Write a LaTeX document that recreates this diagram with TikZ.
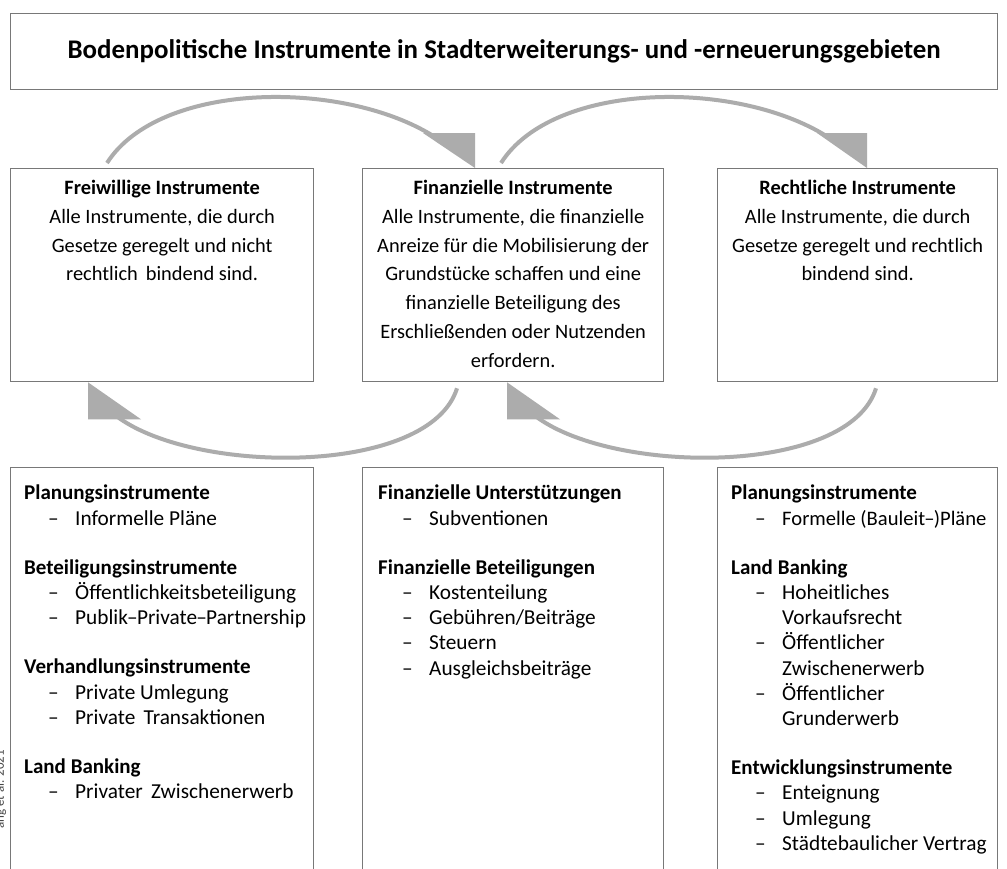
\documentclass[tikz,border=0pt]{standalone}
\usepackage{fontspec}
\setmainfont{Carlito}
\usetikzlibrary{calc}
\definecolor{boxgray}{RGB}{120,120,120}
\definecolor{arrgray}{RGB}{172,172,172}
\definecolor{srcgray}{RGB}{70,70,70}
\newcommand{\itm}[1]{\hspace*{24pt}\makebox[27pt][l]{–}#1}
\newcommand{\cnt}[1]{\hspace*{51pt}#1}
\newcommand{\hd}[1]{{\bfseries\fontsize{21}{25.2}\selectfont #1}}
\newcommand{\dsh}{\kern-0.8pt–\kern-0.8pt}
\begin{document}
\begin{tikzpicture}[x=1pt,y=-1pt,
  box/.style={draw=boxgray, line width=1.3pt, inner sep=0pt, anchor=north west},
  arr/.style={draw=arrgray, line width=4pt},
  tiphead/.style={fill=arrgray},
  midtext/.style={align=center, font=\fontsize{20.4}{28.8}\selectfont, inner sep=0pt, anchor=north},
  listtext/.style={align=left, font=\fontsize{21.3}{25.2}\selectfont, inner sep=0pt, anchor=north west},
]
\useasboundingbox (0,0) rectangle (1007,868);
\fill[white] (0,0) rectangle (1007,868);

% title
\node[box, minimum width=987, minimum height=76] (title) at (10,13) {};
\node[font=\bfseries\fontsize{26.9}{30}\selectfont, inner sep=0pt] (titletxt) at (title.center)
  {Bodenpolitische Instrumente in Stadterweiterungs- und -erneuerungsgebieten};

% middle row
\node[box, minimum width=303, minimum height=213] (fw) at (10,168) {};
\node[box, minimum width=301, minimum height=213] (fi) at (362,168) {};
\node[box, minimum width=280, minimum height=213] (re) at (717,168) {};

\node[midtext] (fwt) at ($(fw.north)+(0,12)$)
  {\textbf{Freiwillige Instrumente}\\Alle Instrumente, die durch\\Gesetze geregelt und nicht\\rechtlich\, bindend sind.};
\node[midtext] (fit) at ($(fi.north)+(0,12)$)
  {\textbf{Finanzielle Instrumente}\\Alle Instrumente, die finanzielle\\Anreize für die Mobilisierung der\\Grundstücke schaffen und eine\\finanzielle Beteiligung des\\Erschließenden oder Nutzenden\\erfordern.};
\node[midtext] (ret) at ($(re.north)+(0,12)$)
  {\textbf{Rechtliche Instrumente}\\Alle Instrumente, die durch\\Gesetze geregelt und rechtlich\\bindend sind.};

% bottom row
\node[box, minimum width=303, minimum height=420] (bl) at (10,467) {};
\node[box, minimum width=301, minimum height=420] (bm) at (362,467) {};
\node[box, minimum width=280, minimum height=420] (br) at (717,467) {};

\node[listtext] (blt) at ($(bl.north west)+(14,18)$)
  {\hd{Planungsinstrumente}\\
   \itm{Informelle Pläne}\\[24pt]
   \hd{Beteiligungsinstrumente}\\
   \itm{Öffentlichkeitsbeteiligung}\\
   \itm{Publik\dsh Private\dsh Partnership}\\[24pt]
   \hd{Verhandlungsinstrumente}\\
   \itm{Private Umlegung}\\
   \itm{Private\, Transaktionen}\\[24pt]
   \hd{Land Banking}\\
   \itm{Privater\, Zwischenerwerb}};
\node[listtext] (bmt) at ($(bm.north west)+(16,18)$)
  {\hd{Finanzielle Unterstützungen}\\
   \itm{Subventionen}\\[24pt]
   \hd{Finanzielle Beteiligungen}\\
   \itm{Kostenteilung}\\
   \itm{Gebühren/Beiträge}\\
   \itm{Steuern}\\
   \itm{Ausgleichsbeiträge}};
\node[listtext] (brt) at ($(br.north west)+(14,18)$)
  {\hd{Planungsinstrumente}\\
   \itm{{\fontsize{20.6}{25.2}\selectfont Formelle (Bauleit\dsh)Pläne}}\\[24pt]
   \hd{Land Banking}\\
   \itm{Hoheitliches}\\
   \cnt{Vorkaufsrecht}\\
   \itm{Öffentlicher}\\
   \cnt{Zwischenerwerb}\\
   \itm{Öffentlicher}\\
   \cnt{Grunderwerb}\\[24pt]
   \hd{Entwicklungsinstrumente}\\
   \itm{Enteignung}\\
   \itm{Umlegung}\\
   \itm{Städtebaulicher Vertrag}};

% arrows top
\draw[arr] ($(fw.north west)+(97,-5)$) .. controls +(53,-83) and +(-90,-60) .. ($(fi.north west)+(76,-29)$);
\fill[tiphead] ($(fi.north west)+(61,-35)$) -- ($(fi.north west)+(113,-35)$) -- ($(fi.north west)+(113,0)$) -- cycle;
\draw[arr] ($(fi.north west)+(139,-5)$) .. controls +(53,-83) and +(-90,-60) .. ($(re.north west)+(114,-29)$);
\fill[tiphead] ($(re.north west)+(100,-35)$) -- ($(re.north west)+(150,-35)$) -- ($(re.north west)+(150,0)$) -- cycle;

% arrows bottom
\draw[arr] ($(fi.south west)+(95,6)$) .. controls +(-27,87) and +(80,58) .. ($(fw.south west)+(108,35)$);
\fill[tiphead] ($(fw.south west)+(78,0)$) -- ($(fw.south west)+(78,37)$) -- ($(fw.south west)+(131,37)$) -- cycle;
\draw[arr] ($(re.south west)+(159,6)$) .. controls +(-27,87) and +(80,58) .. ($(fi.south west)+(175,35)$);
\fill[tiphead] ($(fi.south west)+(145,0)$) -- ($(fi.south west)+(145,37)$) -- ($(fi.south west)+(198,37)$) -- cycle;

% source note (cut at the left edge, as in the reference)
\node[rotate=90, anchor=base east, inner sep=0pt, text=srcgray, font=\fontsize{13}{15}\selectfont] (src) at (4,750) {ang et al. 2021};
\end{tikzpicture}
\end{document}
